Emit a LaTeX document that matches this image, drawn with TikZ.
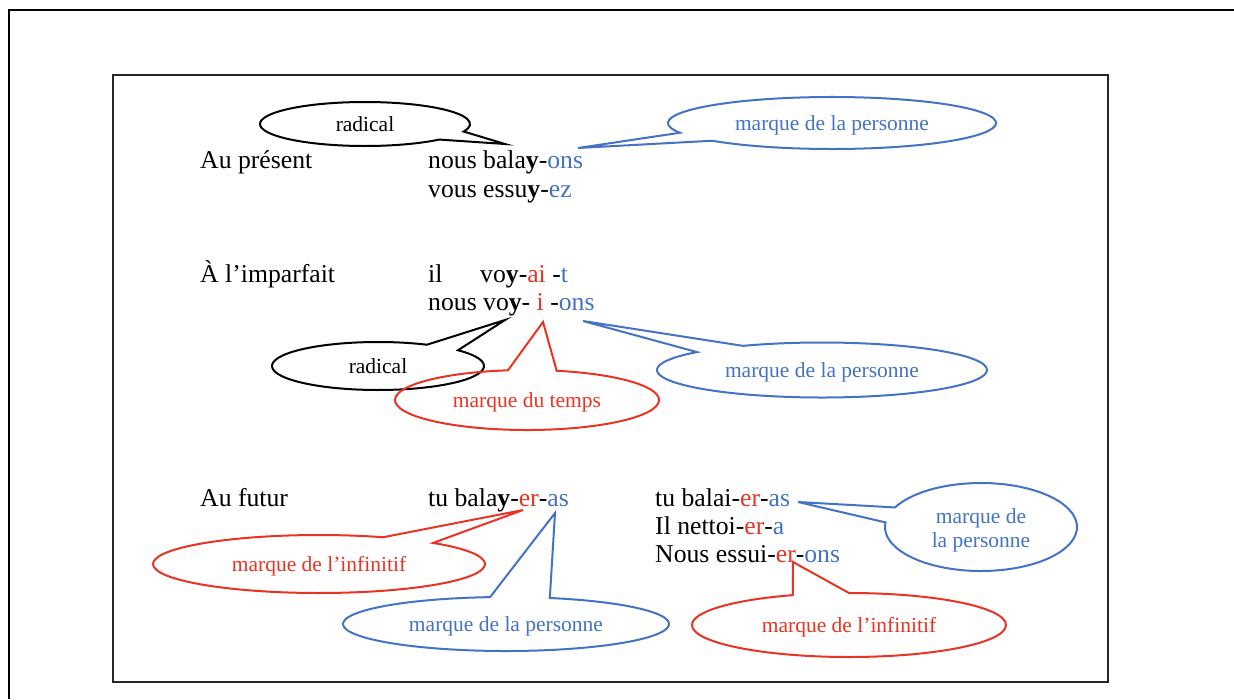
\documentclass[tikz,border=0pt]{standalone}
\usepackage{fontspec}
\setmainfont{Liberation Serif}
\definecolor{bluC}{RGB}{68,114,196}
\definecolor{redC}{RGB}{234,51,35}
\newcommand{\bl}[1]{\textcolor{bluC}{#1}}
\newcommand{\rd}[1]{\textcolor{redC}{#1}}
\newcommand{\by}{{\bfseries y}}
\begin{document}
\begin{tikzpicture}[x=1pt,y=-1pt,
  maintxt/.style={anchor=base west,inner sep=0pt,font=\fontsize{25.7}{28}\selectfont},
  lbl/.style={anchor=center,inner sep=0pt,font=\fontsize{21.5}{24}\selectfont,text height=17pt,text depth=3pt},
  cb/.style={draw=black,line width=2pt,line join=miter},
  cblu/.style={draw=bluC,line width=2pt},
  cred/.style={draw=redC,line width=2pt}]
\useasboundingbox (0,0) rectangle (1234,699);
% frames
\draw[line width=2.8pt] (9,699) -- (9,10) -- (1236,10);
\draw[line width=1.5pt,black!85] (113,75) rectangle (1108,682);

% main texts
\node[maintxt] (pres) at (200,168) {Au présent};
\node[maintxt] (p1) at (428,168) {nous bala\by-\bl{ons}};
\node[maintxt] (p2) at (428,197) {vous essu\by-\bl{ez}};
\node[maintxt] (imp) at (200,282) {À l’imparfait};
\node[maintxt] (i1a) at (428,282) {il};
\node[maintxt] (i1b) at (480,282) {vo\by-\rd{ai} -\bl{t}};
\node[maintxt] (i2) at (428,310) {nous vo\by- \rd{i} -\bl{ons}};
\node[maintxt] (fut) at (200,506) {Au futur};
\node[maintxt] (f1) at (428,506) {tu bala\by-\rd{er}-\bl{as}};
\node[maintxt] (g1) at (655,506) {tu balai-\rd{er}-\bl{as}};
\node[maintxt] (g2) at (655,534) {Il nettoi-\rd{er}-\bl{a}};
\node[maintxt] (g3) at (655,562) {Nous essui-\rd{er}-\bl{ons}};

% tips
\coordinate (t1) at (505,144);
\coordinate (t2) at (578,148);
\coordinate (t3) at (505,320);
\coordinate (t4) at (543,322);
\coordinate (t5) at (583,321);
\coordinate (t6) at (523,510);
\coordinate (t7) at (555,513);
\coordinate (t8) at (798,502);
\coordinate (t9) at (793,562);

% ellipse centres
\coordinate (e1) at (365,124);
\coordinate (e2) at (832,123);
\coordinate (e3) at (378,366);
\coordinate (e4) at (527,400);
\coordinate (e5) at (822,370);
\coordinate (e6) at (319,564);
\coordinate (e7) at (506,624);
\coordinate (e8) at (981,527);
\coordinate (e9) at (849,625);

% callouts
\draw[cb] (e1) ++(45:105 and 22) arc[start angle=45,end angle=380,x radius=105,y radius=22] -- (t1) -- cycle;
\node[lbl] (l1) at (e1) {radical};

\draw[cblu] (e2) ++(158:164 and 26) arc[start angle=158,end angle=497,x radius=164,y radius=26] -- (t2) -- cycle;
\node[lbl,text=bluC] (l2) at (e2) {marque de la personne};

\draw[cb] (e3) ++(319:106 and 24) arc[start angle=319,end angle=657.5,x radius=106,y radius=24] -- (t3) -- cycle;
\node[lbl] (l3) at (e3) {radical};

\draw[cred] (e4) ++(283:132 and 30) arc[start angle=283,end angle=621.7,x radius=132,y radius=30] -- (t4) -- cycle;
\node[lbl,text=redC] (l4) at (e4) {marque du temps};

\draw[cblu] (e5) ++(241.4:165 and 27.5) arc[start angle=241.4,end angle=580.7,x radius=165,y radius=27.5] -- (t5) -- cycle;
\node[lbl,text=bluC] (l5) at (e5) {marque de la personne};

\draw[cred] (e6) ++(313.4:166 and 29) arc[start angle=313.4,end angle=652.7,x radius=166,y radius=29] -- (t6) -- cycle;
\node[lbl,text=redC] (l6) at (e6) {marque de l’infinitif};

\draw[cblu] (e7) ++(285.6:163 and 27) arc[start angle=285.6,end angle=624.4,x radius=163,y radius=27] -- (t7) -- cycle;
\node[lbl,text=bluC] (l7) at (e7) {marque de la personne};

\draw[cblu] (e8) ++(206.4:96 and 44) arc[start angle=206.4,end angle=546,x radius=96,y radius=44] -- (t8) -- cycle;
\node[lbl,text=bluC,align=center,text height=,text depth=] (l8) at ([yshift=-3pt]e8) {marque de\\la personne};

\draw[cred] (e9) ++(270:157 and 32) arc[start angle=270,end angle=609,x radius=157,y radius=32] -- (t9) -- cycle;
\node[lbl,text=redC] (l9) at (e9) {marque de l’infinitif};
\end{tikzpicture}
\end{document}
